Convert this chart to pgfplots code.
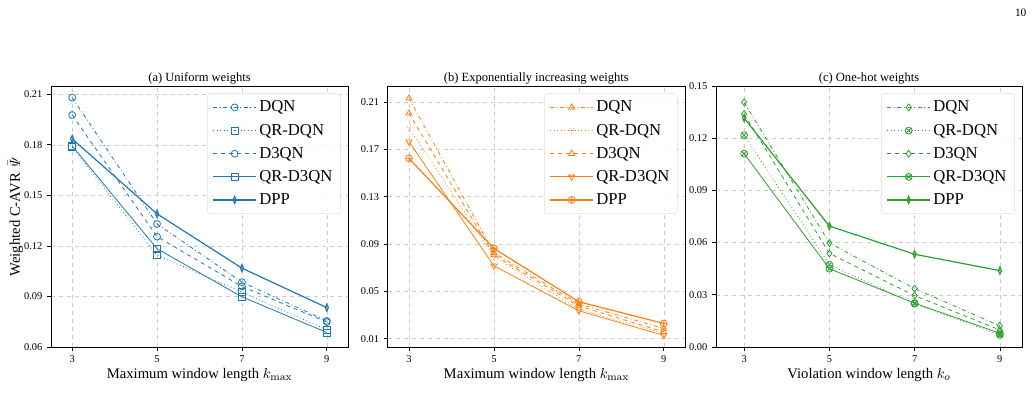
\documentclass[border=0pt]{standalone}
\usepackage{pgfplots}
\pgfplotsset{compat=1.18}
\usepackage[no-math]{fontspec}
\setmainfont{Liberation Serif}
\usetikzlibrary{plotmarks}

\definecolor{tabblue}{HTML}{1F77B4}
\definecolor{taborange}{HTML}{FF7F0E}
\definecolor{tabgreen}{HTML}{2CA02C}

\pgfplotsset{
  panel/.style={
    scale only axis,
    anchor=south west,
    height=195.75bp,
    xmin=2.5, xmax=9.5,
    xtick={3,5,7,9},
    tick align=outside,
    major tick length=3bp,
    tick style={black, line width=0.5pt},
    xtick pos=bottom, ytick pos=left,
    axis line style={line width=0.7pt},
    grid=major,
    grid style={dashed, gray!40, line width=0.4pt},
    tick label style={font=\fontsize{7.8bp}{9bp}\selectfont},
    /pgf/number format/assume math mode=true,
    yticklabel style={/pgf/number format/.cd, fixed, fixed zerofill, precision=2},
    title style={font=\fontsize{9.4bp}{11bp}\selectfont, at={(axis description cs:0.5,1)}, anchor=south, inner sep=0pt, yshift=-4.5bp},
    xlabel style={font=\fontsize{11bp}{13bp}\selectfont, at={(axis description cs:0.5,0)}, anchor=north, inner sep=0pt, yshift=-15.5bp},
    legend style={
      at={(axis description cs:1,1)}, anchor=north east,
      xshift=-5.5bp, yshift=-5.5bp,
      draw=gray!25, rounded corners=2pt, fill=white, fill opacity=0.85, text opacity=1,
      font=\fontsize{12.5bp}{14bp}\selectfont,
      row sep=3.6bp, inner xsep=4bp, inner ysep=3.5bp,
      legend cell align=left,
    },
    legend image code/.code={
      \draw[mark repeat=2, mark phase=2] plot coordinates {(0bp,0bp) (16bp,0bp) (32bp,0bp)};
    },
    every axis plot/.append style={line width=0.6pt},
  },
  mk/.style={mark size=2.6pt, mark options={solid, line width=0.6pt, fill=white}},
}

\begin{document}
\begin{tikzpicture}
\useasboundingbox (0,0) rectangle (775.5bp,309.75bp);

% (a) Uniform weights
\begin{axis}[panel, at={(38.25bp,49.5bp)}, width=222.75bp,
  ymin=0.06, ymax=0.2149, ytick={0.06,0.09,0.12,0.15,0.18,0.21},
  title={(a) Uniform weights},
  xlabel={Maximum window length $k_{\max}$},
  ylabel={Weighted C-AVR $\bar{\mathit{\Psi}}$},
  ylabel style={font=\fontsize{11bp}{13bp}\selectfont, yshift=-6bp},
]
\addplot[tabblue, dash dot, mk, mark=o] coordinates {(3,0.2080) (5,0.1330) (7,0.0985) (9,0.0755)};
\addlegendentry{DQN}
\addplot[tabblue, dotted, mk, mark=square] coordinates {(3,0.1786) (5,0.1145) (7,0.0926) (9,0.0702)};
\addlegendentry{QR-DQN}
\addplot[tabblue, dashed, mk, mark=o] coordinates {(3,0.1977) (5,0.1255) (7,0.0959) (9,0.0748)};
\addlegendentry{D3QN}
\addplot[tabblue, solid, mk, mark=square] coordinates {(3,0.1793) (5,0.1183) (7,0.0898) (9,0.0686)};
\addlegendentry{QR-D3QN}
\addplot[tabblue, solid, line width=0.9pt, mk, mark=diamond, mark options={xscale=0.6}] coordinates {(3,0.1835) (5,0.1390) (7,0.1068) (9,0.0834)};
\addlegendentry{DPP}
\end{axis}

% (b) Exponentially increasing weights
\begin{axis}[panel, at={(290.8bp,49.5bp)}, width=222.95bp,
  ymin=0.003, ymax=0.2235, ytick={0.01,0.05,0.09,0.13,0.17,0.21},
  title={(b) Exponentially increasing weights},
  xlabel={Maximum window length $k_{\max}$},
]
\addplot[taborange, dash dot, mk, mark=triangle] coordinates {(3,0.2131) (5,0.0826) (7,0.0393) (9,0.0187)};
\addlegendentry{DQN}
\addplot[taborange, dotted, mk, mark=triangle, mark options={rotate=180}] coordinates {(3,0.1883) (5,0.0793) (7,0.0348) (9,0.0145)};
\addlegendentry{QR-DQN}
\addplot[taborange, dashed, mk, mark=triangle] coordinates {(3,0.2004) (5,0.0807) (7,0.0376) (9,0.0158)};
\addlegendentry{D3QN}
\addplot[taborange, solid, mk, mark=triangle, mark options={rotate=180}] coordinates {(3,0.1765) (5,0.0716) (7,0.0336) (9,0.0128)};
\addlegendentry{QR-D3QN}
\addplot[taborange, solid, line width=0.9pt, mk, mark=oplus] coordinates {(3,0.1624) (5,0.0863) (7,0.0412) (9,0.0229)};
\addlegendentry{DPP}
\end{axis}

% (c) One-hot weights
\begin{axis}[panel, at={(537bp,49.5bp)}, width=229.5bp,
  xmin=2.34, xmax=9.52,
  ymin=0, ymax=0.15, ytick={0,0.03,0.06,0.09,0.12,0.15},
  title={(c) One-hot weights},
  xlabel={Violation window length $k_o$},
]
\addplot[tabgreen, dash dot, mk, mark=diamond] coordinates {(3,0.1406) (5,0.0598) (7,0.0335) (9,0.0122)};
\addlegendentry{DQN}
\addplot[tabgreen, dotted, mk, mark=otimes] coordinates {(3,0.1217) (5,0.0473) (7,0.0249) (9,0.0069)};
\addlegendentry{QR-DQN}
\addplot[tabgreen, dashed, mk, mark=diamond] coordinates {(3,0.1339) (5,0.0538) (7,0.0295) (9,0.0098)};
\addlegendentry{D3QN}
\addplot[tabgreen, solid, mk, mark=otimes] coordinates {(3,0.1111) (5,0.0450) (7,0.0252) (9,0.0079)};
\addlegendentry{QR-D3QN}
\addplot[tabgreen, solid, line width=0.9pt, mk, mark=diamond, mark options={xscale=0.6}] coordinates {(3,0.1316) (5,0.0695) (7,0.0533) (9,0.0439)};
\addlegendentry{DPP}
\end{axis}

% page number
\node[font=\fontsize{8.5bp}{10bp}\selectfont, anchor=east, inner sep=0pt] at (770bp,300.5bp) {10};
\end{tikzpicture}
\end{document}
